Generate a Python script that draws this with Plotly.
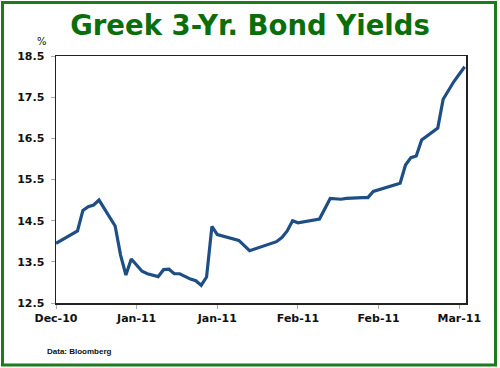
import plotly.graph_objects as go

dates = ["2010-12-20", "2010-12-24", "2010-12-25", "2010-12-26", "2010-12-27", "2010-12-28",
         "2010-12-31", "2011-01-01", "2011-01-02", "2011-01-03", "2011-01-05", "2011-01-06",
         "2011-01-08", "2011-01-09", "2011-01-10", "2011-01-11", "2011-01-12", "2011-01-14",
         "2011-01-15", "2011-01-16", "2011-01-17", "2011-01-18", "2011-01-19", "2011-01-23",
         "2011-01-25", "2011-01-27", "2011-01-30", "2011-01-31", "2011-02-01", "2011-02-02",
         "2011-02-03", "2011-02-07", "2011-02-09", "2011-02-11", "2011-02-12", "2011-02-15",
         "2011-02-16", "2011-02-17", "2011-02-22", "2011-02-23", "2011-02-24", "2011-02-25",
         "2011-02-26", "2011-03-01", "2011-03-02", "2011-03-04", "2011-03-06"]
yields = [13.95, 14.25, 14.75, 14.84, 14.88, 15.00,
          14.37, 13.67, 13.18, 13.57, 13.27, 13.21,
          13.14, 13.31, 13.32, 13.21, 13.21, 13.08,
          13.04, 12.93, 13.13, 14.36, 14.16, 14.02,
          13.77, 13.86, 13.99, 14.09, 14.25, 14.50,
          14.45, 14.54, 15.04, 15.02, 15.04, 15.06,
          15.06, 15.21, 15.41, 15.85, 16.03, 16.07,
          16.46, 16.75, 17.45, 17.88, 18.24]

title_text = "Greek 3-Yr. Bond Yields"
unit_text = "%"
source_text = "Data: Bloomberg"

W, H = 500, 368
L, R, T, B = 56, 34, 56, 65
pw, ph = W - L - R, H - T - B

def px_x(p):
    return (p - L) / pw

def px_y(p):
    return (H - B - p) / ph

fig = go.Figure()
fig.add_trace(go.Scatter(x=dates, y=yields, mode="lines",
                         line=dict(color="#1f4e85", width=3.2), hoverinfo="skip"))

tickfont = dict(family="DejaVu Sans", size=11, color="#111111", weight="bold")

fig.update_layout(
    width=W, height=H,
    margin=dict(l=L, r=R, t=T, b=B),
    paper_bgcolor="white", plot_bgcolor="white",
    showlegend=False,
    title=dict(text=title_text, x=0.5, xanchor="center", y=1 - 25 / H, yanchor="middle",
               font=dict(family="DejaVu Sans", size=27.5, color="#0b6e0b", weight="bold")),
    xaxis=dict(type="date", range=["2010-12-20", "2011-03-06 06:00"],
               tick0="2010-12-20", dtick=15 * 86400000, tickformat="%b-%y",
               showgrid=False, zeroline=False, showline=True, linecolor="#222222",
               linewidth=1.5, mirror=True, ticks="outside", ticklen=4, tickcolor="#aaaaaa",
               tickwidth=1, tickfont=tickfont),
    yaxis=dict(range=[12.5, 18.5], tick0=12.5, dtick=1, tickformat=".1f",
               showgrid=False, zeroline=False, showline=True, linecolor="#222222",
               linewidth=1.5, mirror=True, ticks="outside", ticklen=4, tickcolor="#aaaaaa",
               tickwidth=1, tickfont=tickfont, ticklabelstandoff=4),
    shapes=[dict(type="rect", xref="paper", yref="paper",
                 x0=px_x(2.5), x1=px_x(495.5), y0=px_y(365), y1=px_y(2.5),
                 line=dict(color="#1f7a1f", width=3), fillcolor="rgba(0,0,0,0)", layer="below")],
    annotations=[
        dict(text=unit_text, xref="paper", yref="paper", x=px_x(41.5), y=px_y(42),
             xanchor="center", yanchor="middle", showarrow=False,
             font=dict(family="DejaVu Sans", size=10, color="#111111")),
        dict(text=source_text, xref="paper", yref="paper", x=px_x(45), y=px_y(351),
             xanchor="left", yanchor="middle", showarrow=False,
             font=dict(family="Liberation Sans", size=8, color="#111111", weight="bold")),
    ],
)

fig.write_html("out.html", config={"displayModeBar": False, "staticPlot": True},
               post_script="document.body.style.margin='0';document.body.style.overflow='hidden';")
